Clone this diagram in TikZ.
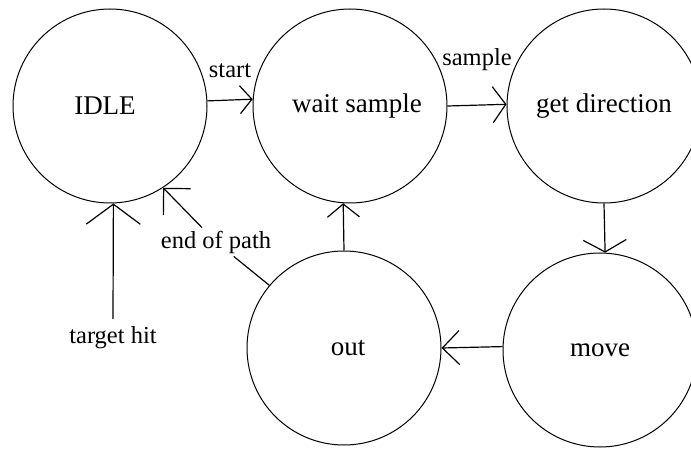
\documentclass[tikz,border=0pt]{standalone}
\usepackage{fontspec}
\setmainfont{Liberation Serif}
\usetikzlibrary{arrows.meta}
\begin{document}
\begin{tikzpicture}[x=1pt,y=-1pt,
  state/.style={circle,draw,line width=1pt,minimum size=194pt,inner sep=0pt,font=\fontsize{27}{32}\selectfont},
  lbl/.style={font=\fontsize{24.5}{29}\selectfont,inner sep=3pt},
  conn/.style={line width=1.2pt},
  ]
\useasboundingbox (0,0) rectangle (691,449);
\clip (0,0) rectangle (691,449);
\fill[white] (0,0) rectangle (691,449);

\node[state] (idle) at (110,106) {\hspace*{-10pt}IDLE};
\node[state] (wait) at (350,106) {\hspace*{14pt}wait sample};
\node[state] (getdir) at (604,106) {get direction};
\node[state] (out) at (344,348) {\hspace*{8pt}out};
\node[state] (move) at (600,350) {move};

\node[lbl] (lstart) at (230,71) {start};
\node[lbl] (lsample) at (477,60) {sample};
\node[lbl] (eop) at (216,242) {end of path};
\node[lbl] (th) at (113,338) {target hit};
\coordinate (thend) at (113,319);

\draw[conn,-{Straight Barb[length=12pt,width=28pt]}] (idle.3.5) -- (wait.176.5);
\draw[conn,-{Straight Barb[length=13pt,width=36pt]}] (wait.0.5) -- (getdir.179.5);
\draw[conn,-{Straight Barb[length=12pt,width=43pt]}] (getdir.-90) -- (move.87.6);
\draw[conn,-{Straight Barb[length=17pt,width=34pt]}] (move.178.8) -- (out.0);
\draw[conn,-{Straight Barb[length=13pt,width=32pt]}] (out.90.6) -- (wait.-94);
\draw[conn,-{Straight Barb[length=20pt,width=54pt]}] (thend) -- (idle.-88.2);
\draw[conn] (out.140) -- (eop);
\draw[conn,-{Straight Barb[length=19pt,width=38pt]}] (eop) -- (idle.-57);
\end{tikzpicture}
\end{document}
